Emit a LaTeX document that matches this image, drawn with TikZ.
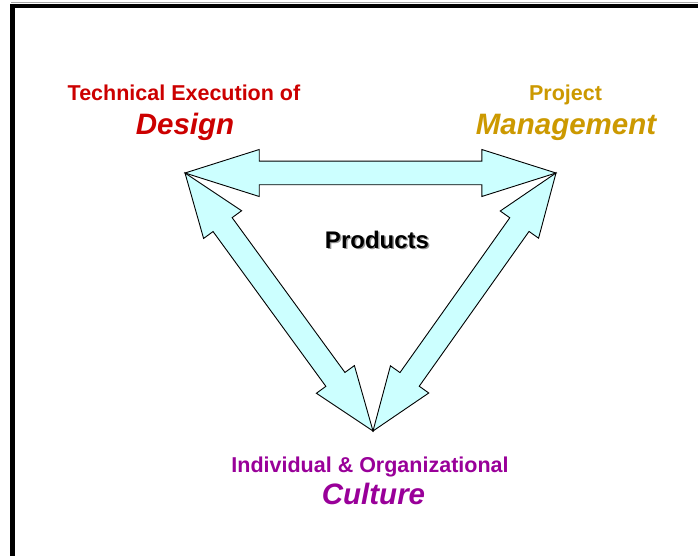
\documentclass[tikz,border=0pt]{standalone}
\usepackage{fontspec}
\setmainfont{Liberation Sans}
\usetikzlibrary{calc}
\definecolor{dred}{HTML}{CC0000}
\definecolor{dgold}{HTML}{CC9900}
\definecolor{dpurple}{HTML}{990099}
\definecolor{arrowfill}{HTML}{CCFFFF}
\newcommand\dblarrow[2]{%
  \coordinate (#1#2a) at ($(#1)!0.2!(#2)$);
  \coordinate (#1#2b) at ($(#1)!0.8!(#2)$);
  \draw[dbl] (#1)
    -- ($(#1#2a)!23.5pt!90:(#2)$) -- ($(#1#2a)!11.8pt!90:(#2)$)
    -- ($(#1#2b)!11.8pt!90:(#2)$) -- ($(#1#2b)!23.5pt!90:(#2)$)
    -- (#2)
    -- ($(#1#2b)!23.5pt!-90:(#2)$) -- ($(#1#2b)!11.8pt!-90:(#2)$)
    -- ($(#1#2a)!11.8pt!-90:(#2)$) -- ($(#1#2a)!23.5pt!-90:(#2)$)
    -- cycle;}
\begin{document}
\begin{tikzpicture}[x=1pt,y=-1pt,
  lbl/.style={font=\bfseries\fontsize{21.5}{25}\selectfont, anchor=base, inner sep=0pt},
  big/.style={font=\bfseries\itshape\fontsize{29.5}{33}\selectfont, anchor=base, inner sep=0pt},
  dbl/.style={draw=black, fill=arrowfill, line width=0.9pt, line join=miter}]
\useasboundingbox (0,0) rectangle (698,556);
\fill[white] (0,0) rectangle (698,556);
\draw[black!35, line width=1pt] (11,3) -- (698,3);
\draw[line width=4.5pt] (12.5,556) -- (12.5,6) -- (698,6);
\coordinate (D) at (185,173);
\coordinate (M) at (556,173);
\coordinate (C) at (373,431);
\dblarrow{D}{M}
\dblarrow{D}{C}
\dblarrow{M}{C}
\node[lbl, text=dred] (tech) at (184,101) {Technical Execution of};
\node[big, text=dred] (design) at (185,135) {Design};
\node[lbl, text=dgold] (proj) at (565.5,101) {Project};
\node[big, text=dgold] (mgmt) at (566,135) {Management};
\node[lbl, text=dpurple] (indiv) at (370,472) {Individual \& Organizational};
\node[big, text=dpurple] (cult) at (373.5,504) {Culture};
\node[lbl, font=\bfseries\fontsize{24}{28}\selectfont, text=black!40] (prodsh) at (378.5,249.5) {Products};
\node[lbl, font=\bfseries\fontsize{24}{28}\selectfont, text=black] (prod) at (377,248) {Products};
\end{tikzpicture}
\end{document}
